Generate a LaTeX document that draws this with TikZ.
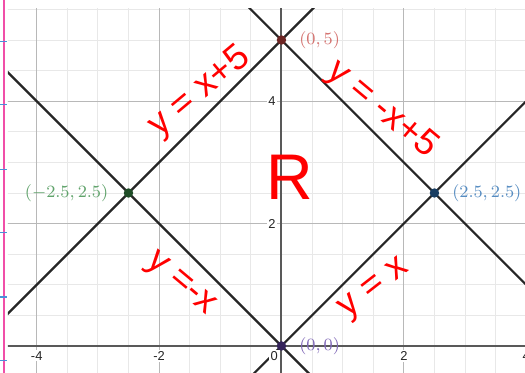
\documentclass[tikz,border=0pt]{standalone}
\usepackage{fontspec}
\setsansfont{Liberation Sans}
\usetikzlibrary{positioning}
\definecolor{ptred}{HTML}{C74440}
\definecolor{ptblue}{HTML}{2D70B3}
\definecolor{ptgreen}{HTML}{388C46}
\definecolor{ptpurple}{HTML}{6042A6}
\definecolor{marginpink}{HTML}{F04FA8}
\definecolor{marginblue}{HTML}{4A90D9}

\begin{document}
\begin{tikzpicture}[
        grid minor/.style = {draw=black!9, line width=0.45pt},
        grid major/.style = {draw=black!28, line width=0.55pt},
        axis line/.style = {draw=black!65, line width=0.95pt},
        graph line/.style = {draw=black!85, line width=1pt},
        tick label/.style = {font=\sffamily\fontsize{6}{6}\selectfont, fill=white, inner sep=0.6pt, text=black!85},
        pt/.style = {circle, inner sep=0pt, minimum size=4.4pt},
        pt label/.style = {font=\fontsize{8.5}{8.5}\selectfont, inner sep=0pt},
        note/.style = {text=red, font=\sffamily\fontsize{17}{17}\selectfont, inner sep=0pt},
    ]
    \useasboundingbox (-4.60,-0.441) rectangle (3.98,5.654);
    % notebook margin
    \draw[marginpink, line width=0.9pt] (-4.54,-0.441) -- (-4.54,5.654);
    \foreach \yy in {4.98, 3.95, 2.89, 1.85, 0.80, -0.245}
        \draw[marginblue, line width=0.5pt] (-4.60,\yy) -- (-4.49,\yy);
    % graph paper
    \begin{scope}
        \clip (-4.47,-0.441) rectangle (3.98,5.507);
        \fill[white] (-4.47,-0.441) rectangle (3.98,5.507);
        \foreach \gx in {-4.5,-4,...,4} \draw[grid minor] (\gx,-0.5) -- (\gx,5.6);
        \foreach \gy in {-0.5,0,...,5.5} \draw[grid minor] (-4.5,\gy) -- (4,\gy);
        \foreach \gx in {-4,-2,2,4} \draw[grid major] (\gx,-0.5) -- (\gx,5.6);
        \foreach \gy in {2,4} \draw[grid major] (-4.5,\gy) -- (4,\gy);
        \draw[axis line] (-4.5,0) -- (4,0);
        \draw[axis line] (0,-0.5) -- (0,5.6);
        % line ends
        \coordinate (ax) at (-5.6,-0.6);
        \coordinate (bx) at (0.6,5.6);
        \coordinate (cx) at (-0.6,5.6);
        \coordinate (dx) at (5.6,-0.6);
        \coordinate (ex) at (-0.6,-0.6);
        \coordinate (fx) at (5.6,5.6);
        \coordinate (gx) at (-5.6,5.6);
        \coordinate (hx) at (0.6,-0.6);
        \draw[graph line] (ax) -- (bx);
        \draw[graph line] (cx) -- (dx);
        \draw[graph line] (ex) -- (fx);
        \draw[graph line] (gx) -- (hx);
        % tick labels
        \foreach \tx in {-4,-2,2,4} \node[tick label] (tx\tx) at (\tx,-0.16) {\tx};
        \node[tick label] (t0) at (-0.12,-0.16) {0};
        \node[tick label] (ty2) at (-0.155,2) {2};
        \node[tick label] (ty4) at (-0.155,4) {4};
    \end{scope}
    % points
    \node[pt, fill=ptred!55!black] (top) at (0,5) {};
    \node[pt, fill=ptblue!55!black] (right) at (2.5,2.5) {};
    \node[pt, fill=ptgreen!55!black] (left) at (-2.5,2.5) {};
    \node[pt, fill=ptpurple!55!black] (origin) at (0,0) {};
    \node[pt label, text=ptred!75!white, right=0.2 of top] (ltop) {$(0, 5)$};
    \node[pt label, text=ptblue!80!white, right=0.2 of right] (lright) {$(2.5, 2.5)$};
    \node[pt label, text=ptgreen!80!white, left=0.24 of left] (lleft) {$(-2.5, 2.5)$};
    \node[pt label, text=ptpurple!80!white, right=0.2 of origin] (lorigin) {$(0, 0)$};
    % handwritten notes
    \node[note, rotate=40] (n1) at (-1.33,4.15) {y = x+5};
    \node[note, rotate=-40] (n2) at (1.64,3.86) {y = -x+5};
    \node[note, font=\sffamily\fontsize{30}{30}\selectfont] (n3) at (0.14,2.75) {R};
    \node[note, rotate=-40] (n4) at (-1.66,1.0) {y =-x};
    \node[note, rotate=38] (n5) at (1.53,0.92) {y = x};
\end{tikzpicture}
\end{document}
